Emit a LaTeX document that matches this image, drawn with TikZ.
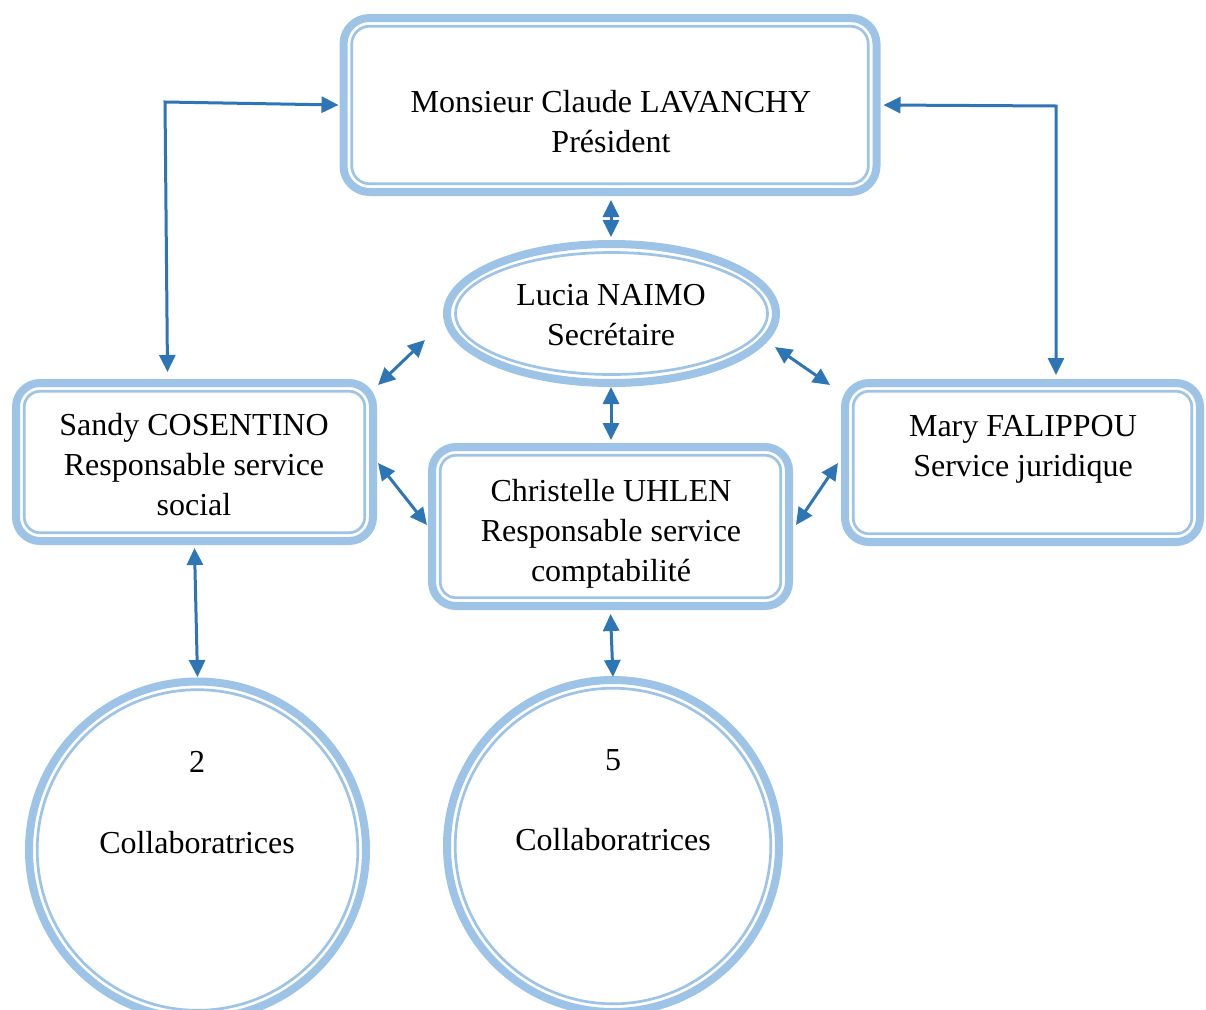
\documentclass[tikz,border=0pt]{standalone}
\usepackage{fontspec}
\setmainfont{Liberation Serif}
\usetikzlibrary{arrows.meta,shapes.geometric,calc}
\definecolor{lb}{HTML}{9DC3E6}
\definecolor{ab}{HTML}{2E75B6}
\begin{document}
\begin{tikzpicture}[x=1pt,y=-1pt,
  outerline/.style={draw=lb,line width=8pt,outer sep=0pt,inner sep=0pt},
  innerline/.style={draw=lb,line width=2.7pt},
  lbl/.style={font=\fontsize{32}{40}\selectfont,align=center,inner sep=0pt},
  tip/.tip={Triangle[length=17pt,width=16pt]},
  conn/.style={draw=ab,line width=3pt,tip-tip}]
\useasboundingbox (0,0) rectangle (1206,1009);
% shapes
\node[outerline,rounded corners=26pt,minimum width=533pt,minimum height=174pt] (pres) at (610,105) {};
\draw[innerline,rounded corners=18pt] ([shift={(8.2,8.2)}]pres.north west) rectangle ([shift={(-8.2,-8.2)}]pres.south east);
\node[outerline,ellipse,minimum width=329pt,minimum height=139pt] (luc) at (611.5,313.5) {};
\draw[innerline] (luc.center) ellipse [x radius=156pt, y radius=61pt];
\node[outerline,rounded corners=24pt,minimum width=357pt,minimum height=158pt] (sandy) at (194.5,462) {};
\draw[innerline,rounded corners=16pt] ([shift={(8.2,8.2)}]sandy.north west) rectangle ([shift={(-8.2,-8.2)}]sandy.south east);
\node[outerline,rounded corners=24pt,minimum width=357pt,minimum height=159pt] (chris) at (610.5,526.5) {};
\draw[innerline,rounded corners=16pt] ([shift={(8.2,8.2)}]chris.north west) rectangle ([shift={(-8.2,-8.2)}]chris.south east);
\node[outerline,rounded corners=24pt,minimum width=355pt,minimum height=159pt] (mary) at (1022.5,462.5) {};
\draw[innerline,rounded corners=16pt] ([shift={(8.2,8.2)}]mary.north west) rectangle ([shift={(-8.2,-8.2)}]mary.south east);
\node[outerline,circle,minimum size=337pt] (c2) at (197.5,850) {};
\draw[innerline] (c2.center) circle [radius=160.3pt];
\node[outerline,circle,minimum size=332pt] (c5) at (613,846) {};
\draw[innerline] (c5.center) circle [radius=157.8pt];
% texts
\node[lbl] (presT) at (611,122) {Monsieur Claude LAVANCHY\\Président};
\node[lbl] (lucT) at (611,315) {Lucia NAIMO\\Secrétaire};
\node[lbl] (sandyT) at (194,465) {Sandy COSENTINO\\Responsable service\\social};
\node[lbl] (chrisT) at (611,534) {Christelle UHLEN\\Responsable service\\comptabilité};
\node[lbl] (maryT) at (1023,449) {Mary FALIPPOU\\Service juridique};
\node[lbl] (c2n) at (197,762) {2};
\node[lbl] (c2T) at (197,843) {Collaboratrices};
\node[lbl] (c5n) at (613,760) {5};
\node[lbl] (c5T) at (613,840) {Collaboratrices};
% connectors
\coordinate (lk) at (165,102);
\coordinate (rk) at (1056,106);
\draw[conn] ($(sandy.north)+(-27,-11)$) -- (lk) -- ($(pres.west)+(-5,0)$);
\draw[conn] ($(pres.east)+(7,0)$) -- (rk) -- ($(mary.north)+(33.5,-8)$);
\draw[conn] ($(pres.south)+(1,8)$) -- ($(luc.north)+(-0.5,-7)$);
\draw[conn] ($(luc.south)+(-0.5,4)$) -- ($(chris.north)+(0.5,-7)$);
\draw[conn] ($(luc.west)+(-22,26.5)$) -- ($(sandy.north east)+(5,2)$);
\draw[conn] ($(luc.east)+(-1,33.5)$) -- ($(mary.north west)+(-15,2)$);
\draw[conn] ($(sandy.east)+(5,1)$) -- ($(chris.west)+(-5,-1.5)$);
\draw[conn] ($(chris.east)+(7,-1.5)$) -- ($(mary.west)+(-7,0.5)$);
\draw[conn] ($(sandy.south)+(0,7)$) -- ($(c2.north)+(0,-4.5)$);
\draw[conn] ($(chris.south)+(0,8)$) -- ($(c5.north)+(0,-3)$);
\end{tikzpicture}
\end{document}
